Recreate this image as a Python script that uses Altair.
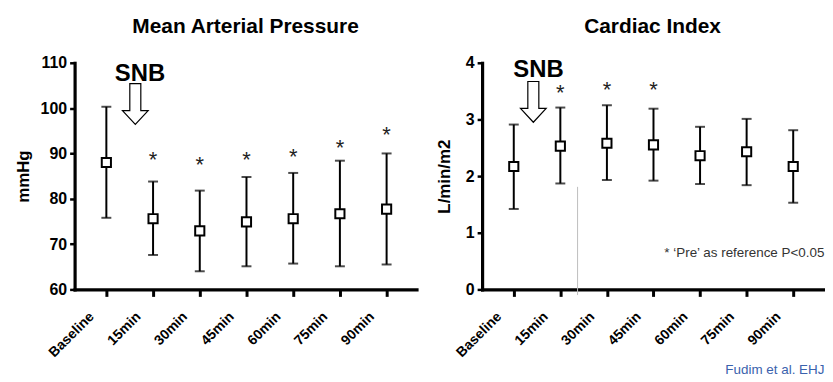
import altair as alt
import pandas as pd

labels = ["Baseline", "15min", "30min", "45min", "60min", "75min", "90min"]
idx = [0, 1, 2, 3, 4, 5, 6]

map_mean = [88.0, 75.6, 72.9, 74.9, 75.6, 76.7, 77.7]
map_upper = [100.3, 83.8, 81.8, 84.8, 85.7, 88.4, 90.0]
map_lower = [75.8, 67.6, 64.0, 65.1, 65.7, 65.1, 65.5]
map_star_idx = [1, 2, 3, 4, 5, 6]
map_star_y = [89.8, 88.7, 89.8, 90.6, 92.5, 95.3]

ci_mean = [2.17, 2.53, 2.58, 2.55, 2.36, 2.43, 2.17]
ci_upper = [2.91, 3.21, 3.25, 3.19, 2.87, 3.01, 2.81]
ci_lower = [1.42, 1.87, 1.93, 1.92, 1.86, 1.84, 1.53]
ci_star_idx = [1, 2, 3]
ci_star_y = [3.57, 3.62, 3.62]

snb_text = "SNB"
map_snb = (0.72, 107.8)
map_arrow = (0.62, 100.9)
ci_snb = (0.53, 3.89)
ci_arrow = (0.42, 3.31)

note_text = "*   \u2018Pre\u2019 as reference P<0.05"
note_pos = (6.67, 0.65)
guide_x, guide_y, guide_y2 = 1.37, 1.81, -0.1
source_text = "Fudim et al. EHJ"

FONT = "Liberation Sans"
ARROW = "M -0.27 -1 L 0.27 -1 L 0.27 0.32 L 0.63 0.32 L 0 1 L -0.63 0.32 L -0.27 0.32 Z"
label_expr = "[" + ",".join("'%s'" % s for s in labels) + "][datum.value]"

AX = dict(grid=False, domainWidth=3.2, domainColor="black", domainCap="square",
          tickColor="black", labelFont=FONT, labelFontWeight="bold", labelColor="black",
          titleFont=FONT, titleFontSize=17, titleFontWeight="bold", titleColor="black")


def panel(title, ytitle, mean, lower, upper, ydomain, yticks, star_idx, star_y,
          snb, arrow, title_pad, width, extra=None):
    X = alt.X(
        "i:Q",
        scale=alt.Scale(domain=[-0.68, 6.64], nice=False, zero=False),
        axis=alt.Axis(values=idx, labelExpr=label_expr, labelAngle=-45, title=None,
                      tickSize=7, tickWidth=3, labelFontSize=14, labelPadding=13,
                      labelOffset=-20, **AX),
    )
    Y = alt.Y(
        "v:Q",
        scale=alt.Scale(domain=ydomain, nice=False, zero=False),
        axis=alt.Axis(values=yticks, title=ytitle, titlePadding=title_pad, format="d",
                      tickSize=5, tickWidth=2.5, labelFontSize=16, labelPadding=3, **AX),
    )
    rd = pd.DataFrame({"i": idx, "v": lower, "v2": upper})
    bars = alt.Chart(rd).mark_rule(color="black", strokeWidth=2).encode(x=X, y=Y, y2="v2:Q")
    cd = pd.DataFrame({"i": idx + idx, "v": lower + upper})
    caps = alt.Chart(cd).mark_tick(color="black", thickness=2, size=10,
                                   orient="horizontal").encode(x=X, y=Y)
    md = pd.DataFrame({"i": idx, "v": mean})
    pts = alt.Chart(md).mark_point(shape="square", size=85, filled=True, fill="white",
                                   stroke="black", strokeWidth=2, opacity=1).encode(x=X, y=Y)
    sd = pd.DataFrame({"i": star_idx, "v": star_y, "t": ["*"] * len(star_idx)})
    stars = alt.Chart(sd).mark_text(font=FONT, fontSize=22, color="#222", dy=6,
                                    baseline="middle").encode(x=X, y=Y, text="t:N")
    snb_d = pd.DataFrame({"i": [snb[0]], "v": [snb[1]], "t": [snb_text]})
    snb_m = alt.Chart(snb_d).mark_text(font=FONT, fontSize=24, fontWeight="bold",
                                       color="black", baseline="middle", dy=1).encode(
        x=X, y=Y, text="t:N")
    ar_d = pd.DataFrame({"i": [arrow[0]], "v": [arrow[1]]})
    ar_m = alt.Chart(ar_d).mark_point(shape=ARROW, size=1681, filled=True, fill="white",
                                      stroke="black", strokeWidth=1.2, opacity=1).encode(x=X, y=Y)
    layers = [bars, caps, pts, stars, snb_m, ar_m]
    if extra is not None:
        layers = extra(X, Y) + layers
    return alt.layer(*layers).properties(
        width=width, height=228,
        title=alt.TitleParams(title, anchor="middle", frame="group", font=FONT,
                              fontSize=21, fontWeight="bold", color="black", offset=18),
    )


def ci_extra(X, Y):
    g = pd.DataFrame({"i": [guide_x], "v": [guide_y], "v2": [guide_y2]})
    guide = alt.Chart(g).mark_rule(color="#bdbdbd", strokeWidth=1).encode(
        x=X, y=Y, y2="v2:Q")
    n = pd.DataFrame({"i": [note_pos[0]], "v": [note_pos[1]], "t": [note_text]})
    note = alt.Chart(n).mark_text(font=FONT, fontSize=13.5, color="#333",
                                  align="right", baseline="middle").encode(
        x=X, y=Y, text="t:N")
    return [guide, note]


left = panel("Mean Arterial Pressure", "mmHg", map_mean, map_lower, map_upper,
             [60, 110], [60, 70, 80, 90, 100, 110], map_star_idx, map_star_y,
             map_snb, map_arrow, 8, 344)
right = panel("Cardiac Index", "L/min/m2", ci_mean, ci_lower, ci_upper,
              [0, 4], [0, 1, 2, 3, 4], ci_star_idx, ci_star_y,
              ci_snb, ci_arrow, 12, 343, extra=ci_extra)

chart = alt.hconcat(left, right, spacing=19).properties(
    title=alt.TitleParams(source_text, orient="bottom", anchor="end", font=FONT,
                          fontSize=13.5, fontWeight="normal", color="#3a62ad", offset=3),
    padding={"left": 6, "top": 7, "right": 0, "bottom": 0},
).configure(background="white", font=FONT).configure_view(strokeWidth=0).configure_axis(
    domainWidth=3.2, domainColor="black", tickColor="black", labelColor="black",
    labelFontWeight="bold", grid=False,
)

chart.save("out.html", embed_options={"renderer": "svg", "actions": False})
